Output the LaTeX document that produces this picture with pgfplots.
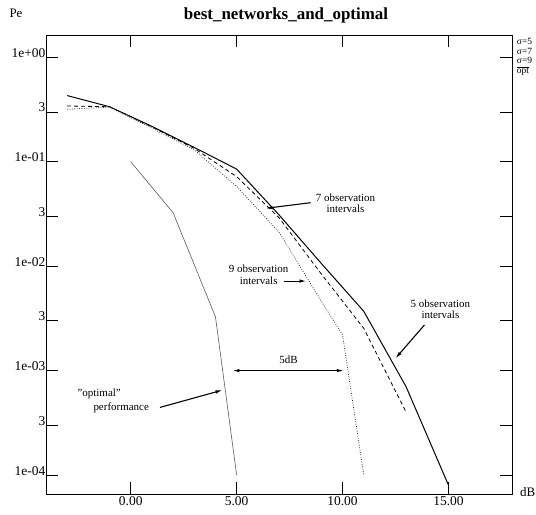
\documentclass[border=0pt]{standalone}
\usepackage{fontspec}
\setmainfont{Liberation Serif}
\usepackage{pgfplots}
\pgfplotsset{compat=1.18}
\usetikzlibrary{arrows.meta}

\begin{document}
\begin{tikzpicture}[x=1bp,y=1bp,
    annot/.style={font=\fontsize{11}{11.5}\selectfont, align=center, inner sep=0pt},
    arr/.style={-{Latex[length=7pt,width=3.5pt]}, line width=1.1pt}]
\begin{axis}[
    at={(0,0)}, anchor=south west,
    scale only axis,
    width=466bp, height=459bp,
    xmin=-4, xmax=18,
    ymode=log, ymin=6.58e-5, ymax=1.635,
    xtick={0,5,10,15},
    xticklabels={0.00,5.00,10.00,15.00},
    ytick={1e-4,3e-4,1e-3,3e-3,1e-2,3e-2,1e-1,3e-1,1},
    yticklabels={1e-04,3,1e-03,3,1e-02,3,1e-01,3,1e+00},
    yminorticks=false, xminorticks=false,
    tick align=inside,
    major tick length=12bp,
    tick style={black, line width=0.7pt},
    axis line style={line width=0.9pt},
    /pgf/number format/assume math mode=true,
    ticklabel style={font=\fontsize{13.5}{15}\selectfont},
    yticklabel style={anchor=base east, inner sep=0.5bp},
    xticklabel style={inner sep=2bp},
    clip=false,
]
% 5 observation intervals
\addplot[black, line width=1pt] coordinates {
    (-3,0.43) (-1,0.336) (1,0.218) (3,0.137) (5,0.085) (7,0.031)
    (9,0.0106) (11,0.0037) (13,7.0e-4) (15,8.0e-5)
};
% 7 observation intervals
\addplot[black, line width=0.8pt, dash pattern=on 4pt off 3pt] coordinates {
    (-3,0.342) (-1,0.336) (1,0.216) (3,0.134) (5,0.072) (7,0.0291)
    (9,0.0084) (11,0.00254) (13,4.0e-4)
};
% 9 observation intervals
\addplot[black!80, line width=0.8pt, dash pattern=on 0.8pt off 1.6pt] coordinates {
    (-3,0.318) (-1,0.333) (1,0.21) (3,0.13) (5,0.058) (7,0.0212)
    (9,0.0046) (10,0.0022) (11,1.0e-4)
};
% optimal
\addplot[black!65, line width=0.6pt] coordinates {
    (0,0.1) (2,0.0325) (4,0.00327) (5,1.0e-4)
};

\node[annot] at (axis cs:10.14,0.040) {7 observation\\intervals};
\draw[arr] (axis cs:8.49,0.0405) -- (axis cs:6.37,0.0358);
\node[annot] at (axis cs:6.04,0.00827) {9 observation\\intervals};
\draw[arr] (axis cs:7.22,0.0072) -- (axis cs:8.30,0.0072);
\node[annot] at (axis cs:14.62,0.00388) {5 observation\\intervals};
\draw[arr] (axis cs:13.87,0.00274) -- (axis cs:12.5,0.00131);
\node[annot] at (axis cs:7.45,0.00128) {5dB};
\draw[{Latex[length=7pt,width=3.5pt]}-{Latex[length=7pt,width=3.5pt]}, line width=1.1pt]
    (axis cs:4.8,1e-3) -- (axis cs:10.06,1e-3);
\node[annot] at (axis cs:-1.49,5.96e-4) {"optimal"};
\node[annot] at (axis cs:-0.45,4.44e-4) {performance};
\draw[arr] (axis cs:1.38,4.44e-4) -- (axis cs:4.33,6.5e-4);
\end{axis}

\node[anchor=base, font=\bfseries\fontsize{17}{19}\selectfont] at (240,474) {best\_networks\_and\_optimal};
\node[anchor=base, font=\fontsize{13}{15}\selectfont] at (-30,476) {Pe};
\node[anchor=base west, inner sep=0pt, font=\fontsize{13}{15}\selectfont] at (474,-3) {dB};
\begin{scope}[every node/.style={anchor=base west, inner sep=0pt, font=\fontsize{9.5}{10}\selectfont}]
\node at (470.7,449) {σ=5};
\node at (470.7,439.5) {σ=7};
\node at (470.7,430) {σ=9};
\node at (470.7,420) {$\overline{\mbox{opt}}$};
\end{scope}

\pgfresetboundingbox
\path[use as bounding box] (-46,-21) rectangle (490,494);
\end{tikzpicture}
\end{document}
